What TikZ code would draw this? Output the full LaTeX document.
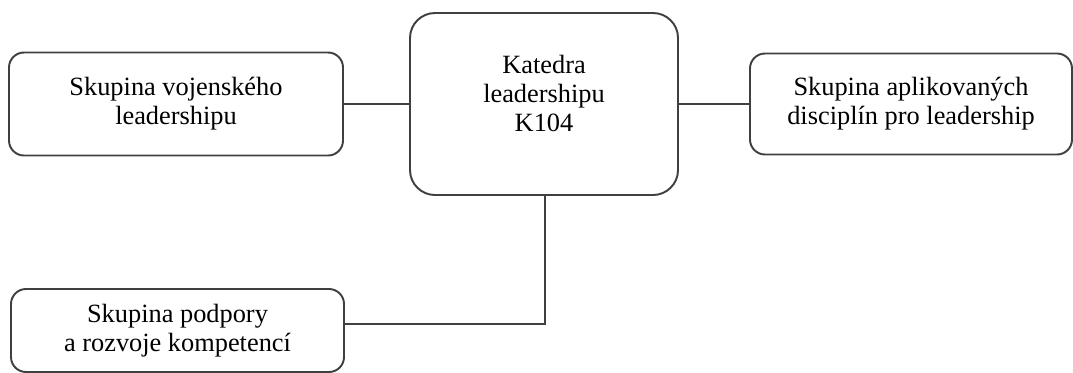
\documentclass[tikz,border=0pt]{standalone}
\usepackage{fontspec}
\setmainfont{Liberation Serif}
\usepackage{tikz}
\tikzset{
	skupina/.style={rectangle,draw=black!75,line width=1.1pt,rounded corners=0.3cm,align=center,minimum width=6.68cm,minimum height=2.06cm,font=\fontsize{15}{16.5}\selectfont},
	spoj/.style={draw=black!75,line width=1.1pt}
}
\begin{document}
\begin{tikzpicture}
	\useasboundingbox (0,0) rectangle (21.46,-7.44);
	\path (3.52,-2.08) node(a)[skupina]{Skupina vojenského\\ leadershipu}
	(10.88,-2.08) node(b)[skupina,minimum width=5.36cm,minimum height=3.64cm,rounded corners=0.5cm]{Katedra\\ leadershipu\\ K104\\[-4pt]\mbox{}}
	(18.22,-2.08) node(c)[skupina,minimum width=6.44cm,minimum height=2.02cm]{Skupina aplikovaných\\ disciplín pro leadership}
	(3.55,-6.61) node(d)[skupina,minimum width=6.66cm,minimum height=1.66cm]{Skupina podpory\\ a rozvoje kompetencí};
	\coordinate (e) at (10.9,-6.48);
	\draw[spoj](a.east)--(b.west);
	\draw[spoj](b.east)--(c.west);
	\draw[spoj](b.south -| e)--(e)--(e -| d.east);
\end{tikzpicture}
\end{document}
